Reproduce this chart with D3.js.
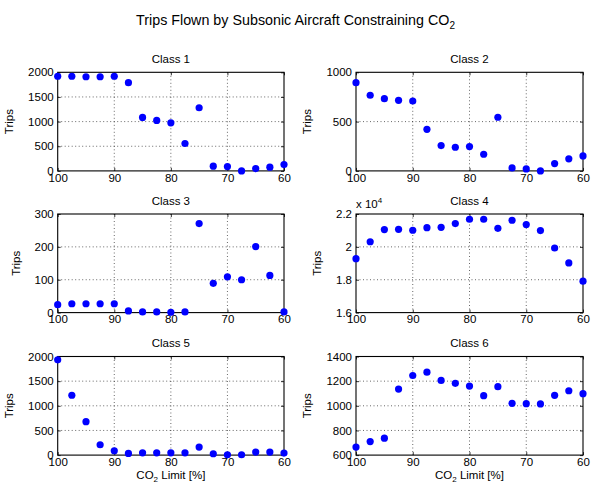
<!DOCTYPE html>
<html>
<head>
<meta charset="utf-8">
<script src="https://cdn.jsdelivr.net/npm/d3@7"></script>
<style>
html,body{margin:0;padding:0;background:#fff;}
text{font-family:"Liberation Sans",Arial,Helvetica,sans-serif;fill:#000;}
</style>
</head>
<body>
<svg id="chart" width="591" height="485"></svg>
<script>
const co2Limit = [100, 97.5, 95, 92.5, 90, 87.5, 85, 82.5, 80, 77.5, 75, 72.5, 70, 67.5, 65, 62.5, 60];
const class1 = [1920, 1920, 1910, 1910, 1920, 1790, 1085, 1024, 976, 556, 1281, 95, 88, 0, 47, 75, 129];
const class2 = [895, 767, 733, 716, 709, 422, 257, 240, 247, 169, 544, 30, 20, 0, 74, 122, 152];
const class3 = [24, 27, 27, 27, 27, 5, 2, 2, 1, 2, 271, 89, 109, 100, 201, 113, 2];
const class4 = [19280, 20310, 21050, 21070, 21010, 21170, 21190, 21420, 21680, 21680, 21130, 21620, 21360, 20990, 19930, 19020, 17910];
const class5 = [1932, 1214, 678, 210, 88, 34, 47, 47, 47, 47, 163, 27, 7, 7, 61, 61, 41];
const class6 = [665, 710, 737, 1136, 1246, 1273, 1206, 1182, 1160, 1082, 1155, 1020, 1017, 1015, 1085, 1122, 1098];

const xTicks = [100, 90, 80, 70, 60];
const panelTitles = ["Class 1", "Class 2", "Class 3", "Class 4", "Class 5", "Class 6"];
const panelSeries = [class1, class2, class3, class4, class5, class6];
const yDomains = [[0, 2000], [0, 1000], [0, 300], [16000, 22000], [0, 2000], [600, 1400]];
const yTickValues = [
  [0, 500, 1000, 1500, 2000],
  [0, 500, 1000],
  [0, 100, 200, 300],
  [16000, 18000, 20000, 22000],
  [0, 500, 1000, 1500, 2000],
  [600, 800, 1000, 1200, 1400]
];
const yTickScale = [1, 1, 1, 1e4, 1, 1];

const svg = d3.select("#chart");
const fs = 11.5;

// main title
const title = svg.append("text")
  .attr("x", 295.5).attr("y", 25)
  .attr("text-anchor", "middle")
  .style("font-size", "14.3px");
title.append("tspan").text("Trips Flown by Subsonic Aircraft Constraining CO");
title.append("tspan").attr("dy", 4).style("font-size", "10px").text("2");

const colX = [57.7, 356];
const colW = [226.3, 227];
const rowY = [72.3, 214, 356.5];
const H = 98.6;

panelSeries.forEach((vals, i) => {
  const col = i % 2, row = Math.floor(i / 2);
  const left = colX[col], top = rowY[row], w = colW[col];
  const g = svg.append("g").attr("transform", `translate(${left},${top})`);
  const x = d3.scaleLinear().domain([100, 60]).range([0, w]);
  const y = d3.scaleLinear().domain(yDomains[i]).range([H, 0]);

  // grid (dotted) at interior ticks
  g.append("g").selectAll("line.vg").data(xTicks.slice(1, -1)).join("line")
    .attr("x1", d => x(d)).attr("x2", d => x(d)).attr("y1", 0).attr("y2", H)
    .attr("stroke", "#000").attr("stroke-width", 0.6).attr("stroke-dasharray", "1,2.5");
  g.append("g").selectAll("line.hg").data(yTickValues[i].slice(1, -1)).join("line")
    .attr("x1", 0).attr("x2", w).attr("y1", d => y(d)).attr("y2", d => y(d))
    .attr("stroke", "#000").attr("stroke-width", 0.6).attr("stroke-dasharray", "1,2.5");

  // axes via d3 axis (inward ticks)
  const xa = d3.axisBottom(x).tickValues(xTicks).tickSize(-3).tickPadding(4).tickFormat(d3.format("d"));
  const xAxisG = g.append("g").attr("transform", `translate(0,${H})`).call(xa);
  const fmt = d => {
    const v = d / yTickScale[i];
    return yTickScale[i] === 1 ? d3.format("d")(v) : String(+v.toFixed(1));
  };
  const ya = d3.axisLeft(y).tickValues(yTickValues[i]).tickSize(-3).tickPadding(4).tickFormat(fmt);
  const yAxisG = g.append("g").call(ya);
  // top & right inward ticks
  g.append("g").call(d3.axisTop(x).tickValues(xTicks).tickSize(-3).tickFormat(""));
  g.append("g").attr("transform", `translate(${w},0)`).call(d3.axisRight(y).tickValues(yTickValues[i]).tickSize(-3).tickFormat(""));

  g.selectAll(".domain").remove();
  g.selectAll(".tick line").attr("stroke", "#000").attr("stroke-width", 0.8);
  xAxisG.selectAll("text").style("font-size", fs + "px").attr("dy", "0.71em").attr("y", 2.5);
  yAxisG.selectAll("text").style("font-size", fs + "px").attr("x", -4);

  // box
  g.append("rect").attr("x", 0).attr("y", 0).attr("width", w).attr("height", H)
    .attr("fill", "none").attr("stroke", "#000").attr("stroke-width", 1.1);

  // panel title
  g.append("text").attr("x", w / 2).attr("y", -9.5).attr("text-anchor", "middle")
    .style("font-size", fs + "px").text(panelTitles[i]);

  // y label
  let maxW = 0;
  yAxisG.selectAll("text").each(function () { maxW = Math.max(maxW, this.getComputedTextLength()); });
  g.append("text").attr("transform", `translate(${-maxW - 19},${H / 2}) rotate(-90)`)
    .attr("text-anchor", "middle").style("font-size", fs + "px").text("Trips");

  // exponent
  if (yTickScale[i] !== 1) {
    const e = g.append("text").attr("x", 0).attr("y", -6).style("font-size", fs + "px");
    e.append("tspan").text("x 10");
    e.append("tspan").attr("dy", -5).style("font-size", "8px").text("4");
  }

  // x label on bottom row
  if (row === 2) {
    const xl = g.append("text").attr("x", w / 2).attr("y", H + 24).attr("text-anchor", "middle")
      .style("font-size", fs + "px");
    xl.append("tspan").text("CO");
    xl.append("tspan").attr("dy", 3).style("font-size", "8px").text("2");
    xl.append("tspan").attr("dy", -3).text(" Limit [%]");
  }

  // dots
  g.append("g").selectAll("circle").data(vals).join("circle")
    .attr("cx", (d, k) => x(co2Limit[k])).attr("cy", d => y(d))
    .attr("r", 3.6).attr("fill", "#0000ff");
});
</script>
</body>
</html>
